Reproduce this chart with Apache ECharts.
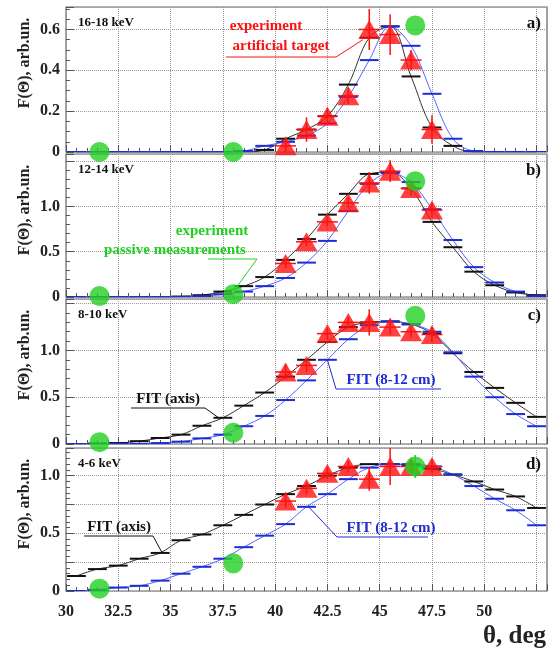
<!DOCTYPE html>
<html>
<head>
<meta charset="utf-8">
<title>F(θ)</title>
<script src="https://cdn.jsdelivr.net/npm/echarts@6/dist/echarts.min.js"></script>
<style>
    html, body { margin: 0; padding: 0; background: #fff; }
    #main { width: 548px; height: 650px; }
</style>
</head>
<body>
<div id="main"></div>
<script>
// 1. 数据
// 1.1 bin centres (deg)
let theta = [30.5, 31.5, 32.5, 33.5, 34.5, 35.5, 36.5, 37.5, 38.5, 39.5, 40.5, 41.5,
    42.5, 43.5, 44.5, 45.5, 46.5, 47.5, 48.5, 49.5, 50.5, 51.5, 52.5]
// 1.2 FIT (axis) and FIT (8-12 cm), per panel
let aFitAxis = [0, 0, 0, 0, 0, 0, 0, 0, 0, 0.01, 0.065, 0.11, 0.175, 0.33, 0.56, 0.615, 0.37, 0.12, 0.03, 0, 0, 0, 0]
let aFitRing = [0, 0, 0, 0, 0, 0, 0, 0, 0.005, 0.03, 0.05, 0.08, 0.14, 0.27, 0.45, 0.615, 0.52, 0.285, 0.065, 0.005, 0, 0, 0]
let bFitAxis = [0, 0, 0, 0, 0, 0.005, 0.02, 0.06, 0.12, 0.22, 0.41, 0.64, 0.91, 1.14, 1.36, 1.38, 1.2, 0.83, 0.55, 0.28, 0.13, 0.05, 0.02]
let bFitRing = [0, 0, 0, 0, 0, 0, 0.01, 0.03, 0.06, 0.12, 0.21, 0.38, 0.62, 0.95, 1.25, 1.37, 1.27, 0.97, 0.63, 0.33, 0.16, 0.06, 0.01]
let cFitAxis = [0, 0.005, 0.01, 0.03, 0.064, 0.1, 0.195, 0.28, 0.41, 0.55, 0.72, 0.9, 1.09, 1.25, 1.3, 1.31, 1.28, 1.18, 0.97, 0.77, 0.6, 0.44, 0.29]
let cFitRing = [0, 0, 0, 0, 0.01, 0.025, 0.06, 0.1, 0.19, 0.3, 0.47, 0.68, 0.9, 1.12, 1.27, 1.31, 1.28, 1.2, 0.98, 0.72, 0.5, 0.32, 0.19]
let dFitAxis = [0.13, 0.19, 0.22, 0.28, 0.33, 0.44, 0.49, 0.57, 0.66, 0.75, 0.84, 0.91, 1.0, 1.07, 1.1, 1.1, 1.09, 1.06, 1.01, 0.95, 0.88, 0.82, 0.72]
let dFitRing = [0, 0.01, 0.03, 0.045, 0.09, 0.15, 0.21, 0.28, 0.38, 0.48, 0.58, 0.73, 0.84, 0.97, 1.07, 1.1, 1.1, 1.08, 1.01, 0.91, 0.8, 0.7, 0.57]
// 1.3 experiment, artificial target
let expTheta = [40.5, 41.5, 42.5, 43.5, 44.5, 45.5, 46.5, 47.5]
let aExp = [0.03, 0.11, 0.175, 0.275, 0.60, 0.575, 0.45, 0.11]
let aErr = [0.04, 0.06, 0.04, 0.04, 0.10, 0.10, 0.05, 0.07]
let bExp = [0.37, 0.61, 0.83, 1.04, 1.26, 1.39, 1.20, 0.96]
let bErr = [0.05, 0.05, 0.05, 0.06, 0.12, 0.12, 0.08, 0.08]
let cExp = [0.77, 0.84, 1.18, 1.30, 1.30, 1.25, 1.20, 1.17]
let cErr = [0.08, 0.07, 0.06, 0.06, 0.14, 0.08, 0.06, 0.08]
let dExp = [0.78, 0.89, 1.02, 1.08, 0.97, 1.08, 1.08, 1.08]
let dErr = [0.06, 0.05, 0.05, 0.05, 0.10, 0.16, 0.06, 0.06]
// 1.4 experiment, passive measurements
let pasTheta = [31.6, 38.0, 46.7]
let aPas = [0, 0, 0.62]
let bPas = [0.01, 0.03, 1.28]
let cPas = [0.02, 0.12, 1.37]
let dPas = [0.02, 0.24, 1.08]
let dPasErr = [0, 0, 0.1]
// 1.5 y tick labels per panel
let aTicks = ['0', '0.2', '0.4', '0.6']
let bcdTicks = ['0', '0.5', '1.0']

let panels = [
    { title: '16-18 keV', tag: 'a)', max: 0.71, step: 0.2, minor: 4, ticks: aTicks, axis: aFitAxis, ring: aFitRing, exp: aExp, err: aErr, pas: aPas, pasErr: [0, 0, 0] },
    { title: '12-14 keV', tag: 'b)', max: 1.58, step: 0.5, minor: 5, ticks: bcdTicks, axis: bFitAxis, ring: bFitRing, exp: bExp, err: bErr, pas: bPas, pasErr: [0, 0, 0] },
    { title: '8-10 keV', tag: 'c)', max: 1.55, step: 0.5, minor: 5, ticks: bcdTicks, axis: cFitAxis, ring: cFitRing, exp: cExp, err: cErr, pas: cPas, pasErr: [0, 0, 0] },
    { title: '4-6 keV', tag: 'd)', max: 1.24, step: 0.25, minor: 5, ticks: bcdTicks, axis: dFitAxis, ring: dFitRing, exp: dExp, err: dErr, pas: dPas, pasErr: dPasErr }
]

// 2. 布局
let serif = 'Liberation Serif'
let boxes = [{ top: 7, height: 145 }, { top: 154, height: 143 }, { top: 299, height: 145 }, { top: 448, height: 143 }]
let red = '#ff1010', green = '#22d022', blue = '#1e2bd6', black = '#111'

// 2.1 短横线 (histogram)
function segItem(params, api) {
    let x = api.value(0), y = api.value(1)
    let p1 = api.coord([x - 0.45, y]), p2 = api.coord([x + 0.45, y])
    return {
        type: 'line',
        shape: { x1: p1[0], y1: p1[1], x2: p2[0], y2: p2[1] },
        style: { stroke: api.visual('color'), lineWidth: 2 }
    }
}
// 2.2 误差线
function errItem(params, api) {
    let x = api.value(0), y = api.value(1), e = api.value(2)
    let lo = api.coord([x, y - e]), hi = api.coord([x, y + e])
    let l = api.coord([x - 0.5, y]), r = api.coord([x + 0.5, y])
    let st = { stroke: api.visual('color'), lineWidth: 1.5 }
    return {
        type: 'group',
        children: [
            { type: 'line', shape: { x1: lo[0], y1: lo[1], x2: hi[0], y2: hi[1] }, style: st },
            { type: 'line', shape: { x1: l[0], y1: l[1], x2: r[0], y2: r[1] }, style: st }
        ]
    }
}

let grid = [], xAxis = [], yAxis = [], series = []
panels.forEach(function (p, i) {
    grid.push({ left: 66, right: 1, top: boxes[i].top, height: boxes[i].height, show: true, borderColor: '#666', borderWidth: 1.2 })
    xAxis.push({
        type: 'value', gridIndex: i, min: 30, max: 53, interval: 2.5,
        axisLine: { show: false },
        axisTick: { inside: true, length: 7, lineStyle: { color: '#555' } },
        minorTick: { show: true, splitNumber: 5, length: 4, lineStyle: { color: '#555' } },
        splitLine: { show: true, lineStyle: { type: 'dotted', color: '#999' } },
        axisLabel: {
            show: i === 3, margin: 13, showMaxLabel: false,
            fontFamily: serif, fontWeight: 'bold', fontSize: 16, color: '#222',
            formatter: function (v) { return v > 51 ? '' : String(v) }
        }
    })
    yAxis.push({
        type: 'value', gridIndex: i, min: 0, max: p.max, interval: p.step,
        axisLine: { show: false },
        axisTick: { inside: true, length: 8, lineStyle: { color: '#555' } },
        minorTick: { show: true, splitNumber: p.minor, length: 4, lineStyle: { color: '#555' } },
        splitLine: { show: true, lineStyle: { type: 'dotted', color: '#999' } },
        axisLabel: {
            margin: 6, showMaxLabel: false,
            fontFamily: serif, fontWeight: 'bold', fontSize: 16, color: '#222',
            formatter: function (v) {
                let s = v === 0 ? '0' : v.toFixed(1)
                return p.ticks.indexOf(s) >= 0 && Math.abs(parseFloat(s) - v) < 1e-6 ? s : ''
            }
        }
    })

    let ax = { xAxisIndex: i, yAxisIndex: i, silent: true }
    // fit curves
    series.push(Object.assign({
        type: 'line', data: theta.map((x, k) => [x, p.axis[k]]), smooth: 0.35, symbol: 'none',
        lineStyle: { color: '#333', width: 1 }, z: 2
    }, ax))
    series.push(Object.assign({
        type: 'line', data: theta.map((x, k) => [x, p.ring[k]]), smooth: 0.35, symbol: 'none',
        lineStyle: { color: '#5566ff', width: 1 }, z: 2
    }, ax))
    // histogram bins
    series.push(Object.assign({
        type: 'custom', renderItem: segItem, clip: true, itemStyle: { color: black },
        data: theta.map((x, k) => [x, p.axis[k]]), z: 3
    }, ax))
    series.push(Object.assign({
        type: 'custom', renderItem: segItem, clip: true, itemStyle: { color: blue },
        data: theta.map((x, k) => [x, p.ring[k]]), z: 3
    }, ax))
    // artificial target
    series.push(Object.assign({
        type: 'custom', renderItem: errItem, clip: true, itemStyle: { color: red },
        data: expTheta.map((x, k) => [x, p.exp[k], p.err[k]]), z: 4
    }, ax))
    series.push(Object.assign({
        type: 'scatter', symbol: 'triangle', symbolSize: [22, 19], itemStyle: { color: red },
        data: expTheta.map((x, k) => [x, p.exp[k]]), z: 5
    }, ax))
    // passive measurements
    series.push(Object.assign({
        type: 'custom', renderItem: errItem, clip: true, itemStyle: { color: green },
        data: pasTheta.map((x, k) => [x, p.pas[k], p.pasErr[k]]).filter(d => d[2] > 0), z: 6
    }, ax))
    series.push(Object.assign({
        type: 'scatter', symbol: 'circle', symbolSize: 20, itemStyle: { color: green },
        data: pasTheta.map((x, k) => [x, p.pas[k]]), z: 7
    }, ax))
})

let myChart = echarts.init(document.getElementById('main'))
myChart.setOption({ animation: false, grid: grid, xAxis: xAxis, yAxis: yAxis, series: series })

// 3. 文字和指示线
function txt(x, y, s, color, size, align, rot) {
    return {
        type: 'text', x: x, y: y, rotation: rot || 0, z: 20,
        style: {
            text: s, fill: color, font: 'bold ' + size + 'px "' + serif + '"',
            textAlign: align || 'center', textVerticalAlign: 'middle'
        }
    }
}
function pointer(pts, color) {
    return { type: 'polyline', z: 20, shape: { points: pts }, style: { stroke: color, lineWidth: 1, fill: null } }
}
function px(i, v) {
    return myChart.convertToPixel({ gridIndex: i }, v)
}

let graphic = []
panels.forEach(function (p, i) {
    let top = boxes[i].top
    graphic.push(txt(78, top + 16, p.title, '#111', 13, 'left'))
    graphic.push(txt(541, top + 17, p.tag, '#111', 17, 'right'))
    graphic.push(txt(25, top + 56, 'F(Θ), arb.un.', '#222', 16, 'center', Math.PI / 2))
})
graphic.push(txt(546, 637, 'θ, deg', '#222', 25, 'right'))

// a) experiment, artificial target
graphic.push(txt(266, 26, 'experiment', red, 15))
graphic.push(txt(281, 46, 'artificial target', red, 15))
graphic.push(pointer([[226, 57], [336, 57], px(0, [44.2, 0.55])], red))
// b) experiment, passive measurements
graphic.push(txt(212, 231, 'experiment', green, 15))
graphic.push(txt(175, 250, 'passive measurements', green, 15))
graphic.push(pointer([[208, 259], [257, 259], px(1, [38.1, 0.09])], green))
// c) fits
graphic.push(txt(168, 399, 'FIT (axis)', black, 15))
graphic.push(pointer([[131, 408], [205, 408], px(2, [37.3, 0.28])], black))
graphic.push(txt(391, 380, 'FIT (8-12 cm)', blue, 15))
graphic.push(pointer([[441, 389], [336, 389], px(2, [42.5, 0.9])], blue))
// d) fits
graphic.push(txt(119, 527, 'FIT (axis)', black, 15))
graphic.push(pointer([[84, 536], [153, 536], px(3, [34.6, 0.33])], black))
graphic.push(txt(391, 528, 'FIT (8-12 cm)', blue, 15))
graphic.push(pointer([[428, 537], [337, 537], px(3, [41.6, 0.73])], blue))

myChart.setOption({ graphic: graphic })
</script>
</body>
</html>
